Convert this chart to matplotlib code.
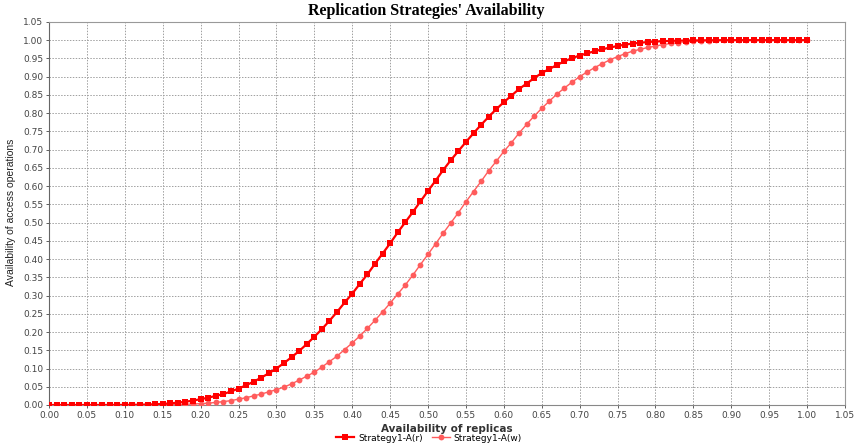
import matplotlib.pyplot as plt
import numpy as np

# availability of replicas, 0.00 .. 1.00 in steps of 0.01
replicas = [round(i * 0.01, 2) for i in range(101)]

# Strategy1-A(r)
avail_read = [
    0.0, 0.0, 0.0, 0.0, 0.0, 0.0, 0.0, 0.0, 0.0001, 0.0002,
    0.0003, 0.0005, 0.0008, 0.0013, 0.002, 0.003, 0.0045, 0.0065, 0.009, 0.012,
    0.016, 0.020, 0.025, 0.030, 0.037, 0.045, 0.054, 0.064, 0.075, 0.087,
    0.100, 0.115, 0.131, 0.148, 0.167, 0.187, 0.208, 0.231, 0.255, 0.281,
    0.305, 0.332, 0.358, 0.387, 0.415, 0.443, 0.473, 0.501, 0.529, 0.558,
    0.587, 0.615, 0.644, 0.671, 0.696, 0.721, 0.745, 0.768, 0.790, 0.811,
    0.830, 0.848, 0.866, 0.881, 0.896, 0.910, 0.921, 0.932, 0.942, 0.951,
    0.958, 0.964, 0.970, 0.975, 0.980, 0.984, 0.988, 0.9907, 0.993, 0.995,
    0.9963, 0.9973, 0.9981, 0.9987, 0.9991, 0.9994, 0.9996, 0.9998, 0.9999, 1.0,
    1.0, 1.0, 1.0, 1.0, 1.0, 1.0, 1.0, 1.0, 1.0, 1.0,
    1.0,
]

# Strategy1-A(w)
avail_write = [
    0.0, 0.0, 0.0, 0.0, 0.0, 0.0, 0.0, 0.0, 0.0, 0.0,
    0.0, 0.0, 0.0001, 0.0002, 0.0004, 0.0006, 0.0009, 0.0013, 0.0019, 0.0027,
    0.0037, 0.005, 0.007, 0.0093, 0.012, 0.016, 0.020, 0.025, 0.030, 0.036,
    0.042, 0.049, 0.058, 0.068, 0.079, 0.090, 0.104, 0.119, 0.134, 0.152,
    0.170, 0.189, 0.210, 0.232, 0.255, 0.279, 0.304, 0.329, 0.356, 0.385,
    0.413, 0.442, 0.471, 0.499, 0.527, 0.557, 0.585, 0.613, 0.642, 0.668,
    0.695, 0.719, 0.745, 0.769, 0.792, 0.813, 0.833, 0.852, 0.869, 0.885,
    0.900, 0.913, 0.925, 0.936, 0.946, 0.955, 0.963, 0.970, 0.975, 0.980,
    0.984, 0.988, 0.991, 0.9935, 0.9955, 0.997, 0.998, 0.9987, 0.9992, 0.9995,
    0.9997, 0.9998, 0.9999, 1.0, 1.0, 1.0, 1.0, 1.0, 1.0, 1.0,
    1.0,
]

ticks = np.round(np.arange(0, 1.051, 0.05), 2)

fig = plt.figure(figsize=(8.58, 4.48), dpi=100)
ax = fig.add_axes([0.0571, 0.096, 0.9277, 0.855])

# A(w) drawn below, A(r) on top
ax.plot(replicas, avail_write, color='#ff5c5c', lw=1.0, marker='o', ms=4.2,
        markeredgewidth=0, label='Strategy1-A(w)', zorder=3)
ax.plot(replicas, avail_read, color='#ff0000', lw=1.6, marker='s', ms=4.8,
        markeredgewidth=0, label='Strategy1-A(r)', zorder=4)

ax.set_xlim(0, 1.05)
ax.set_ylim(0, 1.05)
ax.set_xticks(ticks)
ax.set_yticks(ticks)
ax.set_xticklabels(['%.2f' % t for t in ticks])
ax.set_yticklabels(['%.2f' % t for t in ticks])
ax.tick_params(labelsize=6.5, colors='#444444', length=2, width=0.6, pad=2)
ax.grid(True, color='#a0a0a0', linestyle=(0, (1.5, 1.5)), linewidth=0.7)
for s in ax.spines.values():
    s.set_color('#999999')
    s.set_linewidth(0.8)
ax.spines['left'].set_color('#666666')
ax.spines['bottom'].set_color('#888888')

fig.text(0.497, 0.975, "Replication Strategies' Availability", ha='center', va='center',
         fontsize=11.5, fontweight='bold', family='Liberation Serif')
ax.set_xlabel('Availability of replicas', fontsize=7.5, fontweight='bold', color='#333333', labelpad=3)
fig.text(0.013, 0.525, 'Availability of access operations', rotation=90, ha='center', va='center',
         fontsize=7.5, family=['Liberation Sans Narrow', 'Liberation Sans'], color='#222222')

handles, labels = ax.get_legend_handles_labels()
fig.legend(handles[::-1], labels[::-1], loc='center', bbox_to_anchor=(0.5, 0.022), ncol=2,
           frameon=False, fontsize=6.5, handlelength=2.0, columnspacing=1.0, handletextpad=0.4)

fig.savefig('out.png', dpi=100)
